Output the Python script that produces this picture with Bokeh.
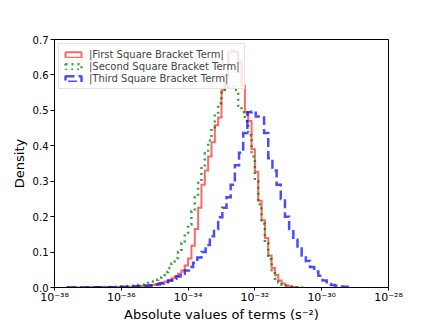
import numpy as np
from bokeh.plotting import figure
from bokeh.models import (Range1d, FixedTicker, CustomJSTickFormatter, PrintfTickFormatter,
                          Legend, LegendItem, ColumnDataSource)
from bokeh.embed import file_html
from bokeh.resources import INLINE

# ---- data (log10 bin start, bin width in decades, density per bin) ----
first_start, first_width = -37.6, 0.1
first_density = [
    0.0002, 0.0001, 0.0002, 0.0002, 0.0003, 0.0003, 0.0004, 0.0004, 0.0005, 0.0006,
    0.0006, 0.0008, 0.0009, 0.0011, 0.0013, 0.0015, 0.0018, 0.002, 0.0024, 0.0028,
    0.0033, 0.0038, 0.0045, 0.0053, 0.0062, 0.0072, 0.009, 0.011, 0.014, 0.017,
    0.021, 0.026, 0.032, 0.039, 0.048, 0.062, 0.082, 0.118, 0.165, 0.225,
    0.29, 0.33, 0.37, 0.41, 0.458, 0.48, 0.557, 0.60, 0.664, 0.668,
    0.664, 0.636, 0.57, 0.495, 0.47, 0.39, 0.327, 0.245, 0.19, 0.14,
    0.09, 0.055, 0.035, 0.02, 0.011, 0.006, 0.003, 0.0015, 0.0007]

second_start, second_width = -37.6, 0.1
second_density = [
    0.0002, 0.0002, 0.0003, 0.0003, 0.0004, 0.0005, 0.0006, 0.0007, 0.0008, 0.001,
    0.0011, 0.0013, 0.0015, 0.0018, 0.0021, 0.0025, 0.003, 0.0035, 0.0042, 0.005,
    0.006, 0.0072, 0.0088, 0.011, 0.013, 0.017, 0.022, 0.028, 0.035, 0.044,
    0.055, 0.068, 0.083, 0.10, 0.125, 0.15, 0.178, 0.215, 0.255, 0.295,
    0.34, 0.378, 0.415, 0.452, 0.49, 0.52, 0.55, 0.562, 0.566, 0.568,
    0.558, 0.51, 0.495, 0.47, 0.43, 0.37, 0.30, 0.235, 0.18, 0.125,
    0.08, 0.045, 0.025, 0.014, 0.008, 0.005, 0.003, 0.002, 0.001, 0.0005]

third_start, third_width = -37.6, 0.125
third_density = [
    0.0002, 0.0002, 0.0002, 0.0003, 0.0003, 0.0004, 0.0004, 0.0005, 0.0006, 0.0007,
    0.0009, 0.001, 0.0012, 0.0015, 0.0018, 0.0022, 0.0027, 0.0033, 0.004, 0.005,
    0.0065, 0.0085, 0.011, 0.015, 0.019, 0.025, 0.031, 0.039, 0.048, 0.058,
    0.07, 0.085, 0.10, 0.12, 0.145, 0.165, 0.198, 0.225, 0.255, 0.29,
    0.345, 0.38, 0.436, 0.495, 0.497, 0.483, 0.48, 0.436, 0.365, 0.33,
    0.29, 0.25, 0.20, 0.165, 0.135, 0.11, 0.09, 0.075, 0.058, 0.045,
    0.033, 0.02, 0.01, 0.007, 0.005, 0.003, 0.002, 0.001]

series_labels = ["|First Square Bracket Term|", "|Second Square Bracket Term|",
                 "|Third Square Bracket Term|"]
x_tick_exponents = [-38, -36, -34, -32, -30, -28]
x_tick_labels = ["10\u207b\u00b3\u2078", "10\u207b\u00b3\u2076", "10\u207b\u00b3\u2074",
                 "10\u207b\u00b3\u00b2", "10\u207b\u00b3\u2070", "10\u207b\u00b2\u2078"]
y_ticks = [0.0, 0.1, 0.2, 0.3, 0.4, 0.5, 0.6, 0.7]
x_label = "Absolute values of terms (s\u207b\u00b2)"
y_label = "Density"

FONT = "DejaVu Sans"

p = figure(width=432, height=324, x_axis_type="log", output_backend="svg",
           toolbar_location=None,
           x_range=Range1d(10.0 ** -38, 10.0 ** -28), y_range=Range1d(0, 0.7),
           min_border_left=54, min_border_right=44, min_border_top=39, min_border_bottom=36)
p.grid.visible = False
p.outline_line_color = "black"
p.outline_line_width = 1
p.background_fill_color = "white"
p.border_fill_color = "white"

styles = [
    dict(line_color="#ff0000", line_alpha=0.6, line_width=2, line_dash="solid"),
    dict(line_color="#008000", line_alpha=0.75, line_width=2.5, line_dash="2 4"),
    dict(line_color="#0000ff", line_alpha=0.7, line_width=2.5, line_dash="9 4"),
]
data = [(first_start, first_width, first_density),
        (second_start, second_width, second_density),
        (third_start, third_width, third_density)]

items = []
for (start, width, dens), st, lab in zip(data, styles, series_labels):
    n = len(dens)
    edges = 10.0 ** (start + width * np.arange(n + 1))
    xs = np.repeat(edges, 2)
    ys = np.concatenate([[0.0], np.repeat(np.array(dens, dtype=float), 2), [0.0]])
    p.line(x=xs, y=ys, line_join="miter", **st)
    # legend-only swatch renderer (one undrawable NaN row so the legend has visuals)
    dummy = ColumnDataSource(dict(left=[np.nan], right=[np.nan], top=[np.nan], bottom=[np.nan]))
    q = p.quad(left="left", right="right", top="top", bottom="bottom", source=dummy,
               fill_alpha=0, **st)
    items.append(LegendItem(label=lab, renderers=[q]))

legend = Legend(items=items, location="top_left")
legend.margin = 4
legend.padding = 4
legend.spacing = 0
legend.label_height = 12
legend.glyph_height = 7
legend.glyph_width = 20
legend.label_standoff = 6
legend.label_text_font = FONT
legend.label_text_font_size = "10px"
legend.border_line_color = "#cccccc"
legend.background_fill_alpha = 0.8
p.add_layout(legend)

xa = p.xaxis[0]
xa.ticker = FixedTicker(ticks=[10.0 ** e for e in x_tick_exponents], minor_ticks=[])
xa.formatter = CustomJSTickFormatter(
    args=dict(labels=x_tick_labels, exps=x_tick_exponents),
    code="const e = Math.round(Math.log10(tick)); const i = exps.indexOf(e); return i >= 0 ? labels[i] : '';")
xa.axis_label = x_label

ya = p.yaxis[0]
ya.ticker = FixedTicker(ticks=y_ticks, minor_ticks=[])
ya.formatter = PrintfTickFormatter(format="%.1f")
ya.axis_label = y_label

for ax in (xa, ya):
    ax.major_label_text_font = FONT
    ax.major_label_text_font_size = "10px"
    ax.major_label_text_color = "black"
    ax.axis_label_text_font = FONT
    ax.axis_label_text_font_size = "13px"
    ax.axis_label_text_font_style = "normal"
    ax.axis_label_text_color = "black"
    ax.major_tick_out = 4
    ax.major_tick_in = 0
    ax.minor_tick_out = 0
    ax.minor_tick_in = 0
    ax.axis_line_color = "black"
    ax.major_tick_line_color = "black"
    ax.major_label_standoff = 2
    ax.axis_label_standoff = 3
xa.major_label_text_font_size = "11px"
xa.major_tick_out = 3
xa.major_label_standoff = 0
xa.axis_label_standoff = 0

open("out.html", "w").write(file_html(p, INLINE))
